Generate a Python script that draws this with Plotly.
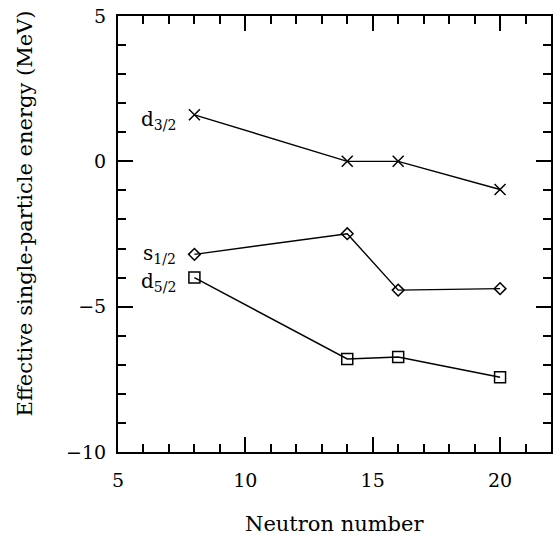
import plotly.graph_objects as go

neutron_number = [8, 14, 16, 20]
d32 = [1.6, 0.0, 0.0, -0.97]
s12 = [-3.2, -2.49, -4.43, -4.38]
d52 = [-4.0, -6.8, -6.73, -7.43]

series_names = ["d<sub>3/2</sub>", "s<sub>1/2</sub>", "d<sub>5/2</sub>"]
series_values = [d32, s12, d52]
series_symbols = ["x-thin-open", "diamond-open", "square-open"]
series_sizes = [11, 9, 11]
label_yshift = [-5, 0, -4]

x_range = [5, 22]
y_range = [-10, 5]
x_title = "Neutron number"
y_title = "Effective single-particle energy (MeV)"

FONT = "DejaVu Serif"

fig = go.Figure()
for name, vals, sym, sz in zip(series_names, series_values, series_symbols, series_sizes):
    fig.add_trace(go.Scatter(
        x=neutron_number, y=vals, mode="lines+markers", name=name,
        line=dict(color="black", width=1.4),
        marker=dict(symbol=sym, size=sz, color="black", line=dict(width=1.5, color="black")),
        showlegend=False,
    ))

annotations = []
for name, vals, ys in zip(series_names, series_values, label_yshift):
    annotations.append(dict(
        x=neutron_number[0], y=vals[0], xref="x", yref="y", text=name,
        showarrow=False, xanchor="right", yanchor="middle", xshift=-16, yshift=ys,
        font=dict(family=FONT, size=20, color="black"),
    ))

annotations.append(dict(
    x=(336 - 118) / 435, y=-72 / 436, xref="paper", yref="paper", text=x_title,
    showarrow=False, xanchor="center", yanchor="middle",
    font=dict(family=FONT, size=21, color="black"),
))
annotations.append(dict(
    x=(25 - 118) / 435, y=(452 - 213) / 436, xref="paper", yref="paper", text=y_title,
    showarrow=False, xanchor="center", yanchor="middle", textangle=-90,
    font=dict(family=FONT, size=21, color="black"),
))

axis_common = dict(
    showgrid=False, zeroline=False, showline=True, linecolor="black", linewidth=2,
    mirror="ticks", ticks="inside", ticklen=15, tickwidth=1.5, tickcolor="black",
    tickfont=dict(family=FONT, size=19, color="black"),
    minor=dict(ticks="inside", ticklen=8, tickwidth=1.5, tickcolor="black", dtick=1, showgrid=False),
)

fig.update_xaxes(range=x_range, dtick=5, tick0=5, ticklabelstandoff=10, **axis_common)
fig.update_yaxes(range=y_range, dtick=5, tick0=-10, ticklabelstandoff=6, **axis_common)

fig.update_layout(
    width=553, height=537,
    margin=dict(l=118, r=0, t=16, b=85),
    paper_bgcolor="white", plot_bgcolor="white",
    annotations=annotations,
    font=dict(family=FONT, color="black"),
)

fig.write_html("out.html", config={"displayModeBar": False},
               post_script="document.body.style.margin='0';document.body.style.overflow='hidden';")
